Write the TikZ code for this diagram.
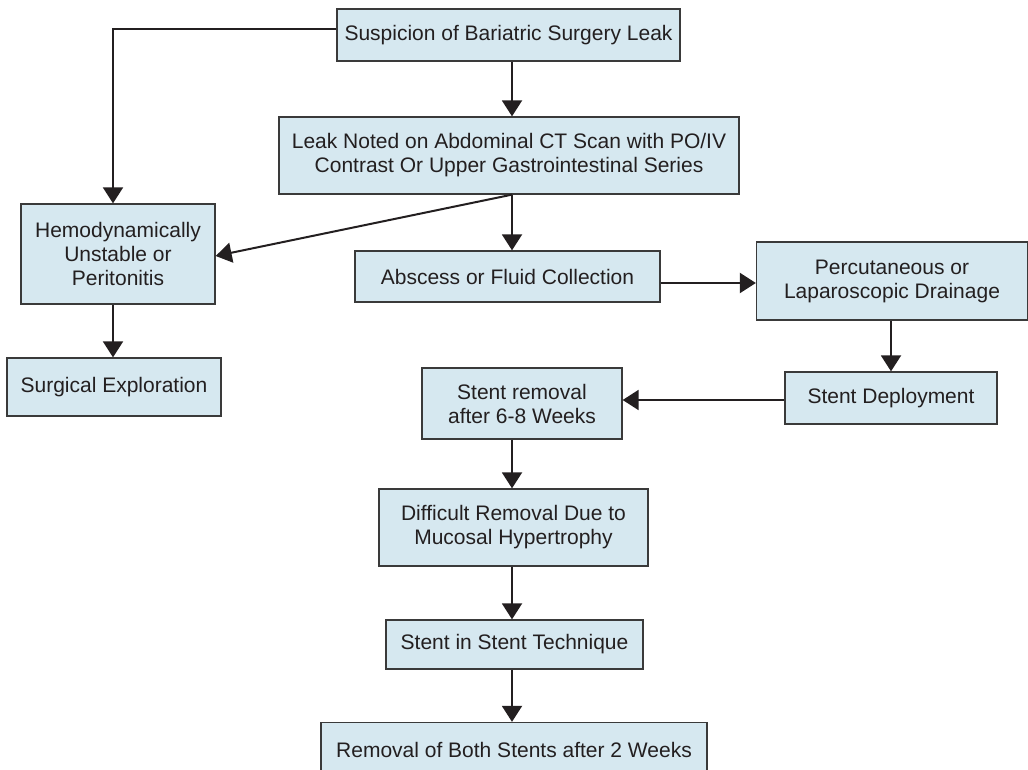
\documentclass[tikz,border=0pt]{standalone}
\usepackage{fontspec}
\setmainfont{Liberation Sans}
\usetikzlibrary{arrows.meta}
\definecolor{boxfill}{HTML}{D6E8F0}
\definecolor{boxline}{HTML}{3A3A3A}
\definecolor{ink}{HTML}{231F20}
\begin{document}
\begin{tikzpicture}[x=1pt,y=-1pt,
  fbox/.style={draw=boxline, line width=1.3pt, fill=boxfill, text=ink,
    inner sep=0pt, align=center, font=\fontsize{21}{24}\selectfont},
  arr/.style={draw=ink, line width=2pt, -{Triangle[width=20pt,length=16pt]}}]
\useasboundingbox (0,0) rectangle (1028,770);
\clip (0,0) rectangle (1028,770);
\coordinate (xm) at (512,0);
\coordinate (xl) at (113,29);
\node[fbox, minimum width=343pt, minimum height=52pt] (b1) at (508.5,35) {Suspicion of Bariatric Surgery Leak};
\node[fbox, minimum width=460pt, minimum height=77pt] (b2) at (509,155.5) {Leak Noted on Abdominal CT Scan with PO/IV\\Contrast Or Upper Gastrointestinal Series};
\node[fbox, minimum width=194pt, minimum height=100pt] (b3) at (118,254) {Hemodynamically\\Unstable or\\Peritonitis};
\node[fbox, minimum width=305pt, minimum height=51pt] (b4) at (507.5,276.5) {Abscess or Fluid Collection};
\node[fbox, minimum width=271pt, minimum height=78pt] (b5) at (892,281) {Percutaneous or\\Laparoscopic Drainage};
\node[fbox, minimum width=214pt, minimum height=58pt] (b6) at (114,387) {Surgical Exploration};
\node[fbox, minimum width=200pt, minimum height=71pt] (b7) at (522,403.5) {Stent removal\\after 6-8 Weeks};
\node[fbox, minimum width=212pt, minimum height=52pt] (sd) at (891,398) {Stent Deployment};
\node[fbox, minimum width=269pt, minimum height=77pt] (b8) at (513.5,527.5) {Difficult Removal Due to\\Mucosal Hypertrophy};
\node[fbox, minimum width=257pt, minimum height=49pt] (b9) at (514.5,644.5) {Stent in Stent Technique};
\node[fbox, minimum width=386pt, minimum height=55pt, text depth=0pt] (b10) at (514,750) {Removal of Both Stents after 2 Weeks};
\coordinate (ky) at (0,283);
\coordinate (kd) at (0,400);
\draw[arr] (b1.south -| xm) -- (b2.north -| xm);
\draw[arr] (b1.west |- xl) -| (b3.north -| xl);
\draw[arr] (b2.south -| xm) -- ([yshift=-2pt]b3.east);
\draw[arr] (b2.south -| xm) -- (b4.north -| xm);
\draw[arr] (b4.east |- ky) -- (b5.west |- ky);
\draw[arr] (b3.south -| xl) -- (b6.north -| xl);
\draw[arr] (b5.south -| sd.north) -- (sd.north);
\draw[arr] (sd.west |- kd) -- (b7.east |- kd);
\draw[arr] (b7.south -| xm) -- (b8.north -| xm);
\draw[arr] (b8.south -| xm) -- (b9.north -| xm);
\draw[arr] (b9.south -| xm) -- (b10.north -| xm);
\end{tikzpicture}
\end{document}
